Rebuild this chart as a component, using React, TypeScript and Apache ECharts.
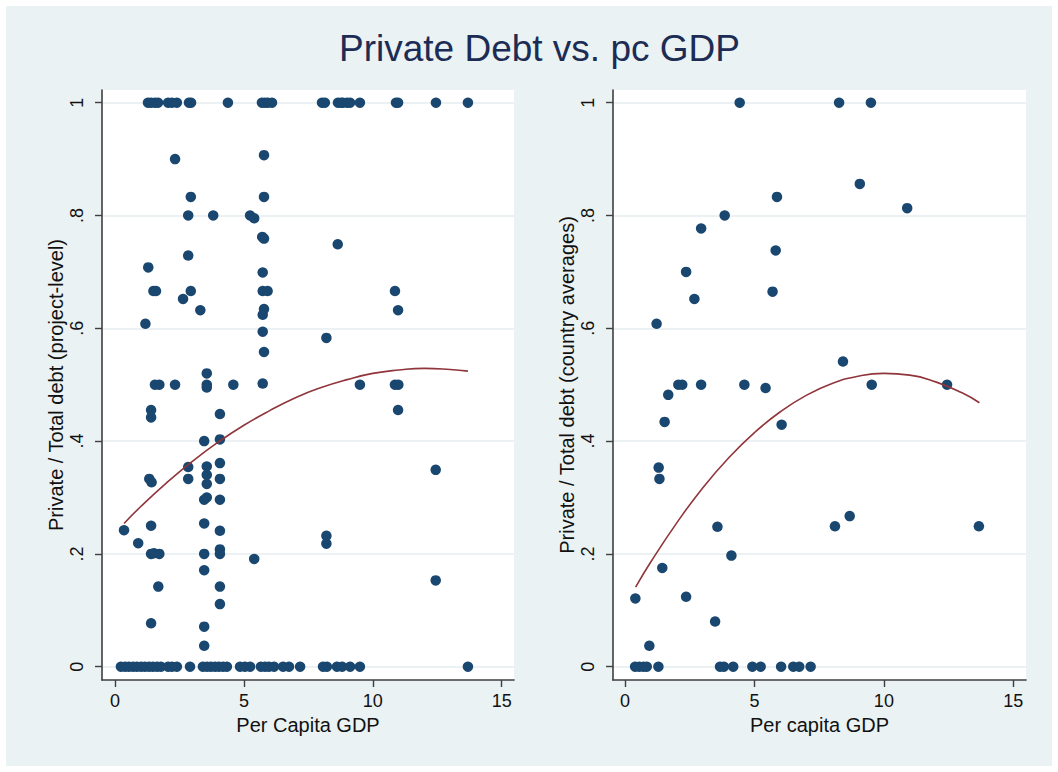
import React, { useEffect, useRef } from "react";
import * as echarts from "echarts";

// ---------- data ----------
const title = "Private Debt vs. pc GDP";
const xTicks = [0, 5, 10, 15];
const yTicks = [0, 0.2, 0.4, 0.6, 0.8, 1];

// Left panel: project-level
const leftX = [
  // y = 1
  1.28, 1.4, 1.55, 1.67, 2.06, 2.21, 2.4, 2.87, 2.95, 4.38, 5.7, 5.82, 5.93, 6.09, 8.03, 8.14, 8.65, 8.77, 8.84, 9.0, 9.12, 9.5, 10.9, 10.98, 12.45, 13.69,
  // interior
  2.33, 5.78, 2.94, 5.78, 2.84, 3.81, 5.24, 5.4, 5.71, 5.78, 8.64, 2.84, 1.29, 5.73, 1.49, 1.59, 2.94, 5.73, 5.92, 10.86,
  2.64, 3.31, 5.78, 10.98, 5.73, 1.18, 5.73, 8.2, 5.78, 3.56, 5.73,
  1.55, 1.72, 2.33, 3.56, 3.56, 4.59, 9.5, 10.86, 10.99,
  1.4, 1.4, 4.07, 10.98, 3.46, 4.07, 2.84, 3.56, 4.07, 12.44, 3.56,
  1.33, 1.42, 2.84, 3.56, 4.07, 3.46, 3.56, 4.07, 0.35, 1.4, 3.46, 4.07, 8.2, 8.2, 0.9,
  1.4, 1.51, 1.72, 3.46, 4.07, 4.07, 5.4, 3.46, 12.44, 1.68, 4.07, 4.07, 1.4, 3.46, 3.46,
  // y = 0
  0.23, 0.39, 0.54, 0.7, 0.85, 1.01, 1.16, 1.32, 1.47, 1.63, 1.78, 2.06, 2.21, 2.4, 2.91, 3.41, 3.57, 3.72, 3.88, 4.03, 4.19, 4.34,
  4.85, 5.04, 5.24, 5.66, 5.82, 5.97, 6.17, 6.52, 6.75, 7.18, 8.07, 8.22, 8.61, 8.81, 9.12, 9.5, 13.69,
];
const leftY = [
  1, 1, 1, 1, 1, 1, 1, 1, 1, 1, 1, 1, 1, 1, 1, 1, 1, 1, 1, 1, 1, 1, 1, 1, 1, 1,
  0.9, 0.907, 0.833, 0.833, 0.8, 0.8, 0.8, 0.795, 0.762, 0.759, 0.749, 0.729, 0.708, 0.699, 0.666, 0.666, 0.666, 0.666, 0.666, 0.666,
  0.652, 0.632, 0.634, 0.632, 0.624, 0.608, 0.594, 0.583, 0.558, 0.52, 0.502,
  0.5, 0.5, 0.5, 0.5, 0.495, 0.5, 0.5, 0.5, 0.5,
  0.455, 0.442, 0.448, 0.455, 0.4, 0.403, 0.354, 0.355, 0.361, 0.349, 0.34,
  0.333, 0.327, 0.333, 0.324, 0.333, 0.296, 0.3, 0.296, 0.242, 0.25, 0.254, 0.241, 0.232, 0.218, 0.219,
  0.2, 0.201, 0.2, 0.2, 0.208, 0.2, 0.191, 0.171, 0.153, 0.142, 0.142, 0.111, 0.077, 0.071, 0.037,
  0, 0, 0, 0, 0, 0, 0, 0, 0, 0, 0, 0, 0, 0, 0, 0, 0, 0, 0, 0, 0, 0,
  0, 0, 0, 0, 0, 0, 0, 0, 0, 0, 0, 0, 0, 0, 0, 0, 0,
];
const leftFitX = [0.35, 1, 2, 3, 4, 5, 6, 7, 8, 9, 10, 11, 12, 13, 13.69];
const leftFitY = [0.254, 0.284, 0.326, 0.364, 0.398, 0.428, 0.454, 0.477, 0.495, 0.509, 0.52, 0.526, 0.529, 0.527, 0.524];

// Right panel: country averages
const rightX = [
  4.43, 8.27, 9.5,
  9.07, 5.87, 10.9, 3.85, 2.94, 5.82, 2.36, 5.7, 2.68, 1.22, 8.42,
  2.06, 2.21, 2.94, 4.61, 9.53, 12.44, 5.43, 1.67, 1.53, 6.05,
  1.3, 1.33, 8.68, 3.57, 8.11, 13.67,
  4.11, 1.44, 2.36, 0.4, 3.48, 0.94,
  0.39, 0.55, 0.71, 0.84, 1.29, 3.67, 3.82, 4.18, 4.92, 5.24, 6.03, 6.5, 6.73, 7.17,
];
const rightY = [
  1, 1, 1,
  0.856, 0.833, 0.813, 0.8, 0.777, 0.738, 0.7, 0.665, 0.652, 0.608, 0.541,
  0.5, 0.5, 0.5, 0.5, 0.5, 0.5, 0.494, 0.482, 0.434, 0.429,
  0.353, 0.333, 0.267, 0.248, 0.249, 0.249,
  0.197, 0.175, 0.124, 0.121, 0.08, 0.037,
  0, 0, 0, 0, 0, 0, 0, 0, 0, 0, 0, 0, 0, 0,
];
const rightFitX = [0.41, 1, 2, 3, 4, 5, 6, 7, 8, 9, 10, 11, 12, 13, 13.69];
const rightFitY = [0.141, 0.186, 0.255, 0.317, 0.37, 0.415, 0.452, 0.481, 0.502, 0.515, 0.52, 0.517, 0.505, 0.486, 0.468];

const leftXTitle = "Per Capita GDP";
const rightXTitle = "Per capita GDP";
const leftYTitle = "Private / Total debt (project-level)";
const rightYTitle = "Private / Total debt (country averages)";

// ---------- styling ----------
const FONT = "Liberation Sans, Arial, Helvetica, sans-serif";
const NAVY = "#1a476f";
const MAROON = "#90353b";
const AXIS = "#3f3f3f";
const GRIDLINE = "#e6eef0";

const zip = (xs: number[], ys: number[]) => xs.map((x, i) => [x, ys[i]]);

const yFmt = (v: number) => {
  if (Math.abs(v) < 1e-9) return "0";
  if (Math.abs(v - 1) < 1e-9) return "1";
  return v.toFixed(1).replace(/^0/, "");
};

function makeX(gridIndex: number, min: number, max: number, name: string) {
  return {
    type: "value",
    gridIndex,
    min,
    max,
    name,
    nameLocation: "middle",
    nameGap: 32,
    nameTextStyle: { fontSize: 20, color: "#111", fontFamily: FONT },
    axisLine: { show: true, onZero: false, lineStyle: { color: AXIS, width: 1.6 } },
    axisTick: { show: true, length: 7, customValues: xTicks, lineStyle: { color: AXIS, width: 1.4 } },
    axisLabel: { customValues: xTicks, margin: 12, fontSize: 18, color: "#111", fontFamily: FONT },
    splitLine: { show: false },
  };
}

function makeY(gridIndex: number, name: string) {
  return {
    type: "value",
    gridIndex,
    min: -0.0236,
    max: 1.0225,
    name,
    nameLocation: "middle",
    nameGap: 36,
    nameTextStyle: { fontSize: 20, color: "#111", fontFamily: FONT },
    axisLine: { show: true, onZero: false, lineStyle: { color: AXIS, width: 1.6 } },
    axisTick: { show: true, length: 7, customValues: yTicks, lineStyle: { color: AXIS, width: 1.4 } },
    axisLabel: {
      customValues: yTicks,
      rotate: 90,
      margin: 16,
      fontSize: 18,
      color: "#111",
      fontFamily: FONT,
      formatter: yFmt,
    },
    splitLine: { show: true, lineStyle: { color: GRIDLINE, width: 1.6 } },
  };
}

function scatter(idx: number, xs: number[], ys: number[]) {
  return {
    type: "scatter",
    xAxisIndex: idx,
    yAxisIndex: idx,
    data: zip(xs, ys),
    symbol: "circle",
    symbolSize: 10.5,
    itemStyle: { color: NAVY, opacity: 1 },
    clip: false,
    z: 2,
  };
}

function fit(idx: number, xs: number[], ys: number[]) {
  return {
    type: "line",
    xAxisIndex: idx,
    yAxisIndex: idx,
    data: zip(xs, ys),
    smooth: true,
    showSymbol: false,
    lineStyle: { color: MAROON, width: 1.6 },
    z: 3,
  };
}

export default function App() {
  const ref = useRef<HTMLDivElement>(null);
  useEffect(() => {
    if (!ref.current) return;
    const chart = echarts.init(ref.current, undefined, { renderer: "svg" });
    chart.setOption({
      animation: false,
      backgroundColor: "transparent",
      title: {
        text: title,
        left: 334,
        top: 25,
        textStyle: { fontSize: 37, fontWeight: "normal", color: "#1c2c55", fontFamily: FONT },
      },
      grid: [
        { left: 102, top: 90, width: 412, height: 590, show: true, backgroundColor: "#ffffff", borderWidth: 0 },
        { left: 613, top: 90, width: 413, height: 590, show: true, backgroundColor: "#ffffff", borderWidth: 0 },
      ],
      xAxis: [makeX(0, -0.504, 15.477, leftXTitle), makeX(1, -0.464, 15.49, rightXTitle)],
      yAxis: [makeY(0, leftYTitle), makeY(1, rightYTitle)],
      series: [
        scatter(0, leftX, leftY),
        fit(0, leftFitX, leftFitY),
        scatter(1, rightX, rightY),
        fit(1, rightFitX, rightFitY),
      ],
    });
    return () => chart.dispose();
  }, []);
  return (
    <div
      style={{
        position: "absolute",
        left: 0,
        top: 0,
        width: 1058,
        height: 772,
        background: "#eaf2f3",
        boxShadow: "inset 0 0 0 6px #ffffff",
      }}
    >
      <div ref={ref} style={{ width: 1058, height: 772 }} />
    </div>
  );
}
